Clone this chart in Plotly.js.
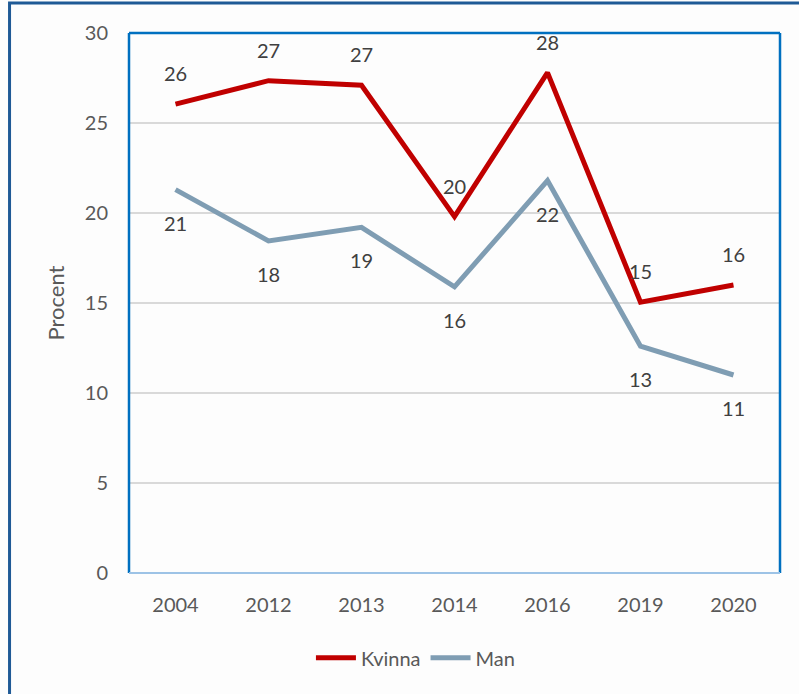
<!DOCTYPE html>
<html>
<head>
<meta charset="utf-8">
<script src="https://cdn.plot.ly/plotly-3.0.1.min.js"></script>
<style>html,body{margin:0;padding:0;background:#fdfdfd;}#chart{width:799px;height:694px;}</style>
</head>
<body>
<div id="chart"></div>
<script>
const years = ['2004', '2012', '2013', '2014', '2016', '2019', '2020'];
const kvinna = [26.05, 27.35, 27.1, 19.8, 27.8, 15.05, 16.0];
const man = [21.3, 18.45, 19.2, 15.9, 21.8, 12.6, 11.0];
const yTicks = [0, 5, 10, 15, 20, 25, 30];

const FONT = 'Lato, "Open Sans", sans-serif';
const traces = [
  {x: years, y: kvinna, name: 'Kvinna', type: 'scatter', mode: 'lines',
   line: {color: '#C00000', width: 5}},
  {x: years, y: man, name: 'Man', type: 'scatter', mode: 'lines',
   line: {color: '#7F9DB3', width: 5}}
];

const annotations = [];
years.forEach((yr, i) => {
  annotations.push({x: i, y: kvinna[i], xref: 'x', yref: 'y', text: String(Math.round(kvinna[i])),
    showarrow: false, yshift: 31, font: {family: FONT, size: 20, color: '#404040'}});
  annotations.push({x: i, y: man[i], xref: 'x', yref: 'y', text: String(Math.round(man[i])),
    showarrow: false, yshift: -33, font: {family: FONT, size: 20, color: '#404040'}});
});

const shapes = [
  {type: 'rect', xref: 'paper', yref: 'paper', x0: -0.1835, x1: 1.2, y0: -0.5, y1: 1.0555,
   line: {color: '#1F5A96', width: 3}, layer: 'below'},
  {type: 'line', xref: 'paper', yref: 'paper', x0: 0, x1: 0, y0: 0, y1: 1, line: {color: '#0070C0', width: 2.5}},
  {type: 'line', xref: 'paper', yref: 'paper', x0: 0, x1: 1, y0: 1, y1: 1, line: {color: '#0070C0', width: 2.5}},
  {type: 'line', xref: 'paper', yref: 'paper', x0: 1, x1: 1, y0: 0, y1: 1, line: {color: '#0070C0', width: 2.5}},
  {type: 'line', xref: 'paper', yref: 'paper', x0: 0, x1: 1, y0: 0, y1: 0, line: {color: '#9DC3E6', width: 2}}
];

const layout = {
  width: 799, height: 694,
  margin: {l: 129, r: 19, t: 33, b: 121},
  paper_bgcolor: '#fdfdfd', plot_bgcolor: '#fdfdfd',
  font: {family: FONT, size: 20, color: '#595959'},
  showlegend: true,
  legend: {orientation: 'h', x: 0.44, xanchor: 'center', y: -0.157, yanchor: 'middle',
    font: {family: FONT, size: 20, color: '#595959'}, itemwidth: 40},
  xaxis: {type: 'category', range: [-0.5, 6.5], showgrid: false, zeroline: false,
    showline: false, ticks: '', ticklabelstandoff: 18,
    tickfont: {family: FONT, size: 20, color: '#595959'}},
  yaxis: {range: [0, 30], tickvals: yTicks, ticktext: yTicks.map(String),
    showgrid: true, gridcolor: '#D9D9D9', gridwidth: 1.5, zeroline: false, showline: false,
    ticks: '', ticklabelstandoff: 20,
    tickfont: {family: FONT, size: 20, color: '#595959'}},
  annotations: annotations,
  shapes: shapes
};
layout.yaxis.title = {text: 'Procent', standoff: 14, font: {family: FONT, size: 22, color: '#595959'}};

Plotly.newPlot('chart', traces, layout, {displayModeBar: false, staticPlot: true});
</script>
</body>
</html>
